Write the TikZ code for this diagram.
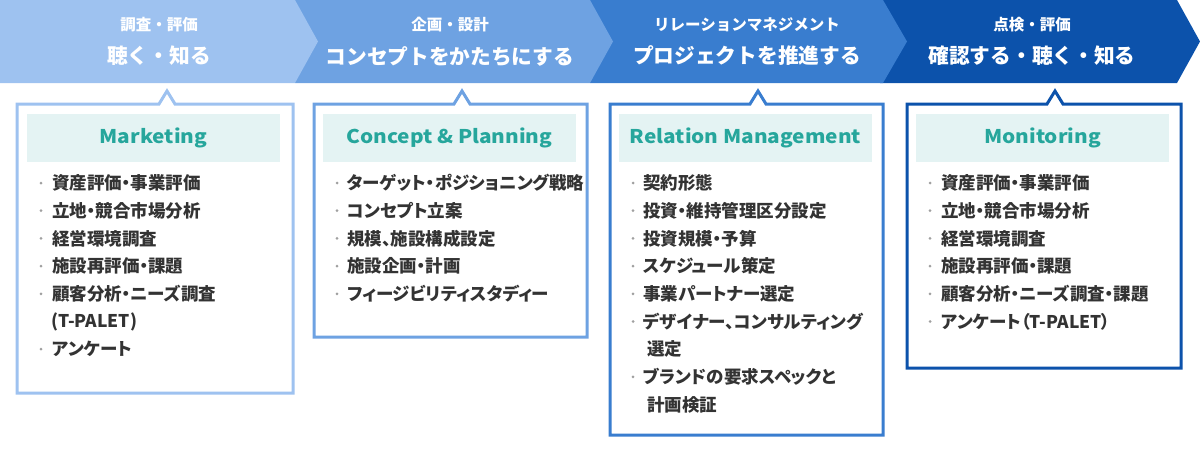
\documentclass[tikz,border=0pt]{standalone}
\usepackage{fontspec}
\setmainfont{Noto Sans CJK JP}
\newfontfamily\ttlfont{Noto Sans CJK JP}[FakeStretch=1.1]
\newfontfamily\itemfont{Noto Sans CJK JP}[RawFeature=+palt]
\definecolor{bandA}{RGB}{158,194,240}
\definecolor{bandB}{RGB}{110,162,226}
\definecolor{bandC}{RGB}{57,125,207}
\definecolor{bandD}{RGB}{12,82,171}
\definecolor{titlefill}{RGB}{228,243,243}
\definecolor{titletext}{RGB}{38,166,156}
\definecolor{itemtext}{RGB}{51,51,51}
\definecolor{bulletgray}{RGB}{160,160,160}
\tikzset{
  hsmall/.style={text=white, inner sep=0pt, font=\bfseries\fontsize{15.5}{17}\selectfont},
  hbig/.style={text=white, inner sep=0pt, font=\bfseries\fontsize{20.7}{24}\selectfont},
  boxline/.style={line width=3pt, fill=white, line join=miter},
  titleband/.style={fill=titlefill, inner sep=0pt, minimum width=253pt, minimum height=48pt,
     text=titletext, font=\ttlfont\bfseries\fontsize{18.9}{22}\selectfont},
  itemtxt/.style={anchor=west, inner sep=0pt, text=itemtext, font=\itemfont\bfseries\fontsize{17.5}{19}\selectfont},
  bul/.style={circle, fill=bulletgray, inner sep=0pt, minimum size=3pt}
}
\newcommand\chevron[4]{% x start, x end, tip extra, color
  \fill[#4] (#1,0) -- (#2,0) -- (#2+#3,41.5) -- (#2,83) -- (#1,83) -- cycle;}
\newcommand\notchbox[6]{% L,R,T,B,notch x,color
  \draw[boxline, draw=#6] (#1,#3) -- (#5-8,#3) -- (#5,#3-13) -- (#5+8,#3) -- (#2,#3) -- (#2,#4) -- (#1,#4) -- cycle;}
\begin{document}
\begin{tikzpicture}[x=1pt,y=-1pt]
\useasboundingbox (0,0) rectangle (1200,450);
% header chevrons (drawn last to first so tips overlap)
\chevron{880}{1177}{23}{bandD}
\chevron{590}{883}{24}{bandC}
\chevron{295}{590}{23}{bandB}
\chevron{0}{295}{23}{bandA}
% header texts
\node[hsmall] (h1s) at (159,25) {調査・評価};
\node[hbig]   (h1b) at (159,56) {聴く・知る};
\node[hsmall] (h2s) at (450,25) {企画・設計};
\node[hbig]   (h2b) at (450,56) {コンセプトをかたちにする};
\node[hsmall] (h3s) at (747,25) {リレーションマネジメント};
\node[hbig]   (h3b) at (747,56) {プロジェクトを推進する};
\node[hsmall] (h4s) at (1032,25) {点検・評価};
\node[hbig]   (h4b) at (1032,56) {確認する・聴く・知る};
% boxes
\notchbox{17}{293}{104}{393}{167}{bandA}
\notchbox{314}{587}{104}{337}{462}{bandB}
\notchbox{610}{883}{104}{435}{758}{bandC}
\notchbox{907}{1181}{104}{368}{1055}{bandD}
% title bands
\node[titleband] (t1) at (153.5,138) {Marketing};
\node[titleband] (t2) at (449.5,138) {Concept \& Planning};
\node[titleband] (t3) at (745.5,138) {Relation Management};
\node[titleband] (t4) at (1042.5,138) {Monitoring};
% items box 1
\foreach \t [count=\i] in {資産評価・事業評価,立地・競合市場分析,経営環境調査,施設再評価・課題,顧客分析・ニーズ調査}{
  \node[bul] (b1d\i) at (41,183+27.7*\i-27.7) {};
  \node[itemtxt] (b1i\i) at (52,183+27.7*\i-27.7) {\t};
}
\node[itemtxt] (b1i6) at (51,183+27.7*5) {(T-PALET)};
\node[bul] (b1d7) at (41,183+27.7*6) {};
\node[itemtxt] (b1i7) at (52,183+27.7*6) {アンケート};
% items box 2
\foreach \t [count=\i] in {ターゲット・ポジショニング戦略,コンセプト立案,規模、施設構成設定,施設企画・計画,フィージビリティスタディー}{
  \node[bul] (b2d\i) at (337,183+27.7*\i-27.7) {};
  \node[itemtxt] (b2i\i) at (347,183+27.7*\i-27.7) {\t};
}
% items box 3
\foreach \t [count=\i] in {契約形態,投資・維持管理区分設定,投資規模・予算,スケジュール策定,事業パートナー選定,デザイナー、コンサルティング}{
  \node[bul] (b3d\i) at (633,183+27.7*\i-27.7) {};
  \node[itemtxt] (b3i\i) at (643,183+27.7*\i-27.7) {\t};
}
\node[itemtxt] (b3i7) at (647,183+27.7*6) {選定};
\node[bul] (b3d8) at (633,183+27.7*7) {};
\node[itemtxt] (b3i8) at (643,183+27.7*7) {ブランドの要求スペックと};
\node[itemtxt] (b3i9) at (647,183+27.7*8) {計画検証};
% items box 4
\foreach \t [count=\i] in {資産評価・事業評価,立地・競合市場分析,経営環境調査,施設再評価・課題,顧客分析・ニーズ調査・課題,アンケート（T-PALET）}{
  \node[bul] (b4d\i) at (930,183+27.7*\i-27.7) {};
  \node[itemtxt] (b4i\i) at (941,183+27.7*\i-27.7) {\t};
}
\end{tikzpicture}
\end{document}
